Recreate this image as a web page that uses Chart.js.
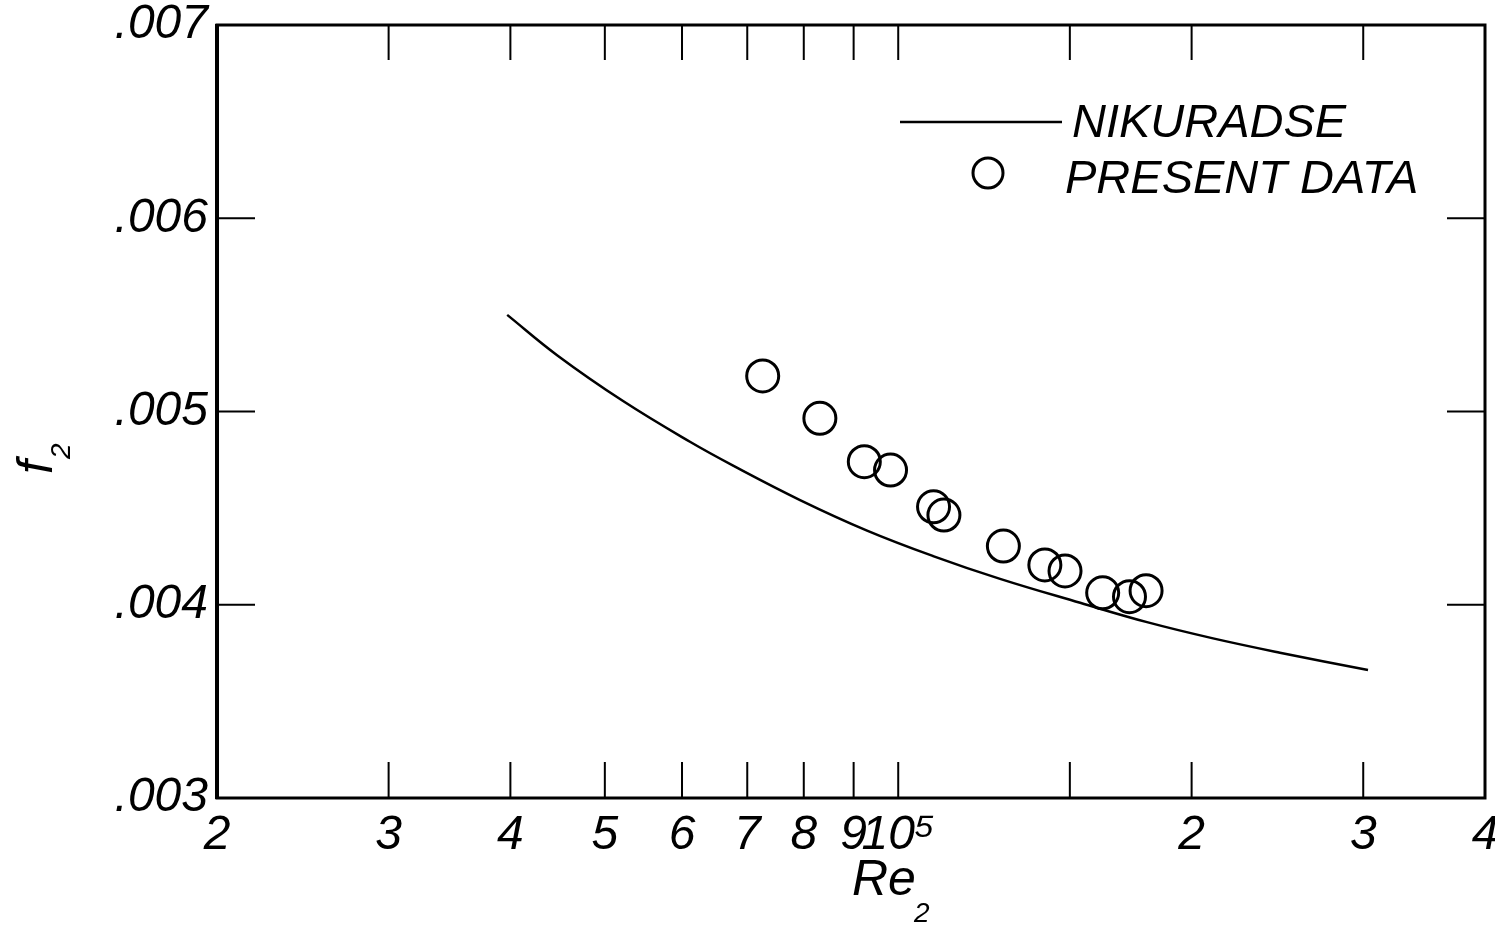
<!DOCTYPE html>
<html>
<head>
<meta charset="utf-8">
<script src="https://cdn.jsdelivr.net/npm/chart.js@4.4.1/dist/chart.umd.min.js"></script>
<style>
html,body{margin:0;padding:0;background:#fff;}
canvas{display:block;}
</style>
</head>
<body>
<canvas id="c" width="1495" height="934"></canvas>
<script>
// ---- Data ----
const xTickValues = [20000, 30000, 40000, 50000, 60000, 70000, 80000, 90000, 100000, 150000, 200000, 300000, 400000];
const xTickLabels = ['2', '3', '4', '5', '6', '7', '8', '9', '10\u2075', '', '2', '3', '4'];
const yTickValues = [0.003, 0.004, 0.005, 0.006, 0.007];
const yTickLabels = ['.003', '.004', '.005', '.006', '.007'];

const nikuradseRe = [39700, 44700, 52200, 61200, 67700, 79300, 92900, 108600, 127200, 153700, 180000, 210400, 246400, 303400];
const nikuradseF  = [0.00550, 0.00529, 0.005054, 0.004842, 0.004720, 0.004542, 0.004384, 0.004252, 0.004134, 0.004010, 0.003910, 0.003826, 0.003752, 0.003662];

const presentRe = [72600, 83100, 92300, 98200, 108700, 111400, 128200, 141400, 148300, 162100, 172700, 179600];
const presentF  = [0.005184, 0.004965, 0.004740, 0.004697, 0.004507, 0.004464, 0.004304, 0.004206, 0.004175, 0.004062, 0.004042, 0.004073];

const seriesLabels = ['NIKURADSE', 'PRESENT DATA'];
const xTitle = ['Re', '2'];
const yTitle = ['f', '2'];

const FF = "'Liberation Sans', 'DejaVu Sans', sans-serif";
const INK = '#000';

// ---- Plugin: frame, inward tick marks, legend, axis titles ----
const decorPlugin = {
  id: 'decor',
  beforeDatasetsDraw(chart) {
    const ctx = chart.ctx, a = chart.chartArea;
    const xs = chart.scales.x, ys = chart.scales.y;
    ctx.save();
    ctx.strokeStyle = INK;
    ctx.lineCap = 'butt';
    ctx.lineWidth = 2;
    ctx.beginPath();
    xs.ticks.forEach(t => {
      const px = xs.getPixelForValue(t.value);
      if (px <= a.left + 1 || px >= a.right - 1) return;
      ctx.moveTo(px, a.top); ctx.lineTo(px, a.top + 35);
      ctx.moveTo(px, a.bottom); ctx.lineTo(px, a.bottom - 36);
    });
    ys.ticks.forEach(t => {
      const py = ys.getPixelForValue(t.value);
      if (py <= a.top + 1 || py >= a.bottom - 1) return;
      ctx.moveTo(a.left, py); ctx.lineTo(a.left + 38, py);
      ctx.moveTo(a.right, py); ctx.lineTo(a.right - 38, py);
    });
    ctx.stroke();
    ctx.lineWidth = 3;
    ctx.strokeRect(a.left, a.top, a.right - a.left, a.bottom - a.top);
    ctx.lineWidth = 4;
    ctx.beginPath(); ctx.moveTo(a.left, a.top - 1); ctx.lineTo(a.left, a.bottom + 1); ctx.stroke();
    ctx.restore();
  },
  afterDraw(chart) {
    const ctx = chart.ctx;
    const ds = chart.data.datasets;
    ctx.save();
    ctx.fillStyle = INK;
    ctx.strokeStyle = INK;
    // legend
    ctx.lineWidth = 2.5;
    ctx.beginPath(); ctx.moveTo(900, 122); ctx.lineTo(1062, 122); ctx.stroke();
    ctx.lineWidth = 3;
    ctx.beginPath(); ctx.arc(988, 173, 15, 0, Math.PI * 2); ctx.stroke();
    ctx.font = `italic 47px ${FF}`;
    ctx.textBaseline = 'middle';
    ctx.textAlign = 'left';
    ctx.fillText(ds[0].label, 1072, 124);
    ctx.fillText(ds[1].label, 1065, 180);
    // x title
    ctx.textBaseline = 'alphabetic';
    ctx.font = `italic 50px ${FF}`;
    ctx.fillText(xTitle[0], 852, 895);
    const w = ctx.measureText(xTitle[0]).width;
    ctx.font = `italic 28px ${FF}`;
    ctx.fillText(xTitle[1], 852 + w - 2, 922);
    // y title (rotated)
    ctx.translate(52, 474);
    ctx.rotate(-Math.PI / 2);
    ctx.font = `italic 50px ${FF}`;
    ctx.fillText(yTitle[0], 0, 0);
    const wf = ctx.measureText(yTitle[0]).width;
    ctx.font = `italic 28px ${FF}`;
    ctx.fillText(yTitle[1], wf + 1, 18);
    ctx.restore();
  }
};

const lineData = nikuradseRe.map((x, i) => ({x, y: nikuradseF[i]}));
const pointData = presentRe.map((x, i) => ({x, y: presentF[i]}));

new Chart(document.getElementById('c'), {
  type: 'scatter',
  data: {
    datasets: [
      {
        label: seriesLabels[0],
        data: lineData,
        showLine: true,
        borderColor: INK,
        borderWidth: 2.5,
        pointRadius: 0,
        fill: false,
        tension: 0.4
      },
      {
        label: seriesLabels[1],
        data: pointData,
        showLine: false,
        pointStyle: 'circle',
        pointRadius: 16,
        borderColor: INK,
        borderWidth: 3,
        backgroundColor: 'rgba(0,0,0,0)'
      }
    ]
  },
  options: {
    responsive: false,
    devicePixelRatio: 1,
    animation: false,
    events: [],
    layout: { autoPadding: false, padding: { left: 0, top: 25, right: 10, bottom: 0 } },
    plugins: { legend: { display: false }, tooltip: { enabled: false } },
    scales: {
      x: {
        type: 'logarithmic',
        min: 20000,
        max: 400000,
        grid: { display: false, drawTicks: false },
        border: { display: false },
        ticks: {
          autoSkip: false,
          maxRotation: 0,
          minRotation: 0,
          padding: 9,
          color: INK,
          font: { family: FF, size: 48, style: 'italic' },
          callback: (v, i) => xTickLabels[i]
        },
        afterBuildTicks: s => { s.ticks = xTickValues.map(v => ({ value: v })); },
        afterFit: s => { s.height = 136; s.paddingLeft = 0; s.paddingRight = 0; }
      },
      y: {
        type: 'linear',
        min: 0.003,
        max: 0.007,
        grid: { display: false, drawTicks: false },
        border: { display: false },
        ticks: {
          padding: 9,
          color: INK,
          font: { family: FF, size: 48, style: 'italic' },
          callback: (v, i) => yTickLabels[i]
        },
        afterBuildTicks: s => { s.ticks = yTickValues.map(v => ({ value: v })); },
        afterFit: s => { s.width = 217; s.paddingTop = 0; s.paddingBottom = 0; }
      }
    }
  },
  plugins: [decorPlugin]
});
</script>
</body>
</html>
